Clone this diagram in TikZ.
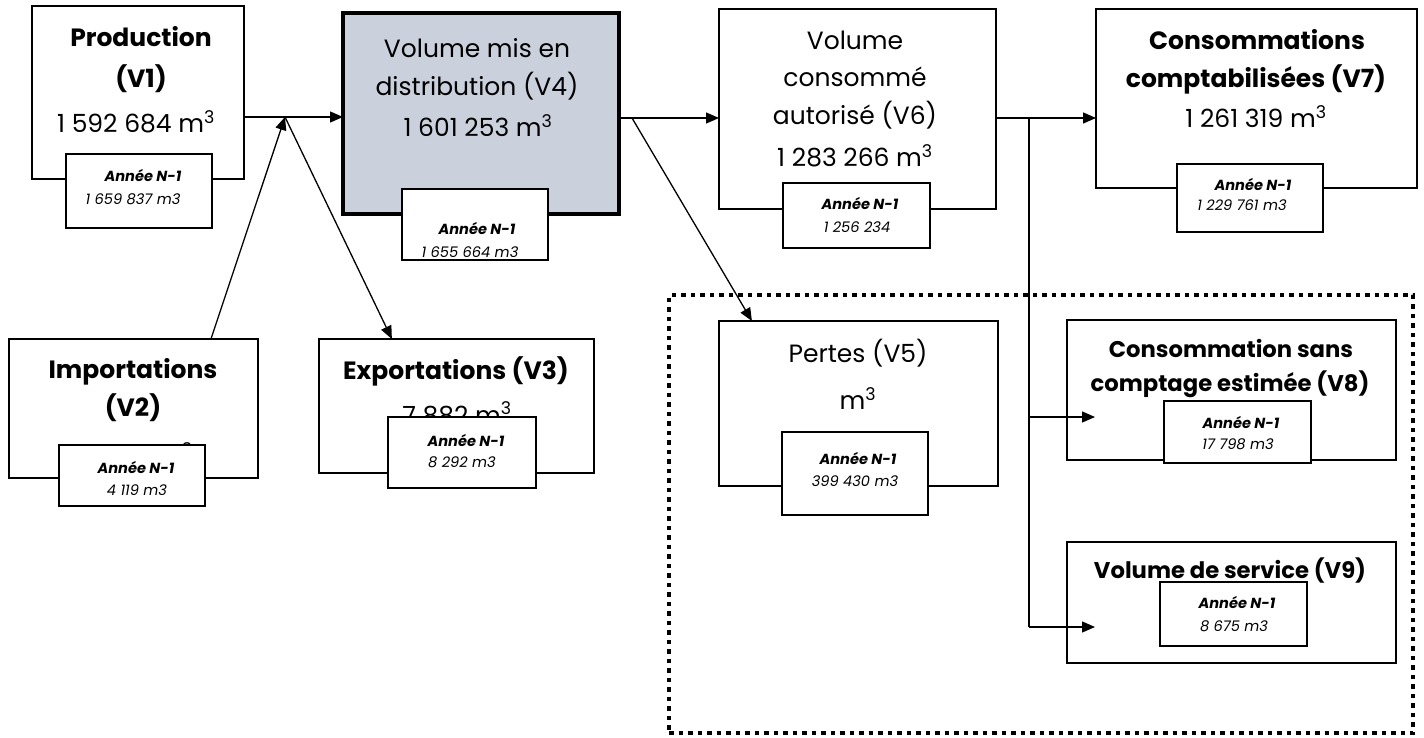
\documentclass[tikz,border=0pt]{standalone}
\usepackage{fontspec}
\setmainfont{Poppins}
\usetikzlibrary{arrows.meta,calc}
\definecolor{vfill}{RGB}{203,208,221}
\begin{document}
\begin{tikzpicture}[x=1pt,y=-1pt,
  box/.style={draw, line width=1.4pt, fill=white, inner sep=0pt, outer sep=0pt},
  bigbox/.style={draw, line width=4.5pt, fill=vfill, inner sep=0pt, outer sep=0pt},
  big/.style={inner sep=0pt, anchor=base, font=\fontsize{25}{30}\selectfont},
  bigb/.style={inner sep=0pt, anchor=base, font=\fontsize{25}{30}\selectfont\bfseries},
  midb/.style={inner sep=0pt, anchor=base, font=\fontsize{22.7}{27}\selectfont\bfseries},
  sm/.style={inner sep=0pt, anchor=base, font=\fontsize{14.6}{17}\selectfont\itshape},
  smb/.style={inner sep=0pt, anchor=base, font=\fontsize{14.6}{17}\selectfont\bfseries\itshape},
  arr/.style={-{Triangle[length=13pt,width=11pt]}, line width=1.3pt},
  con/.style={line width=1.3pt},
  dotbox/.style={draw, line width=4.5pt, dash pattern=on 4.5pt off 5pt}
]
\useasboundingbox (0,0) rectangle (1424,738);
\fill[white] (0,0) rectangle (1424,738);

% dotted frame
\node[dotbox, minimum width=744pt, minimum height=438pt, inner sep=0pt] (frame) at (1041,514) {};

% main boxes
\node[box, minimum width=212pt, minimum height=173pt] (v1) at (138,92.5) {};
\node[bigbox, minimum width=276pt, minimum height=201pt] (v4) at (481,113.5) {};
\node[box, minimum width=277pt, minimum height=200pt] (v6) at (857.5,109) {};
\node[box, minimum width=321pt, minimum height=179pt] (v7) at (1256.5,98.5) {};
\node[box, minimum width=249pt, minimum height=139pt] (v2) at (133.5,408.5) {};
\node[box, minimum width=275pt, minimum height=134pt] (v3) at (456.5,406) {};
\node[box, minimum width=279pt, minimum height=165pt] (v5) at (858.5,403.5) {};
\node[box, minimum width=329pt, minimum height=140pt] (v8) at (1231.5,390) {};
\node[box, minimum width=329pt, minimum height=121pt] (v9) at (1231.5,602.5) {};

% main texts
\node[bigb] (t1a) at (141,46.5) {Production};
\node[bigb] (t1b) at (141,87.5) {(V1)};
\node[big] (t1c) at (136,132.5) {1 592 684 m\textsuperscript{3}};

\node[big] (t4a) at (477,57.5) {Volume mis en};
\node[big] (t4b) at (477,95.5) {distribution (V4)};
\node[big] (t4c) at (478,136.5) {1 601 253 m\textsuperscript{3}};

\node[big] (t6a) at (855,49.5) {Volume};
\node[big] (t6b) at (855,86.5) {consommé};
\node[big] (t6c) at (855,124.5) {autorisé (V6)};
\node[big] (t6d) at (855,166.5) {1 283 266 m\textsuperscript{3}};

\node[bigb] (t7a) at (1257,49.5) {Consommations};
\node[bigb] (t7b) at (1256,87.5) {comptabilisées (V7)};
\node[big] (t7c) at (1256,127.5) {1 261 319 m\textsuperscript{3}};

\node[bigb] (t2a) at (133,378.5) {Importations};
\node[bigb] (t2b) at (133,416.5) {(V2)};
\node[big, anchor=base east] (t2c) at (193,465) {\textsuperscript{3}};

\node[bigb] (t3a) at (456,379.5) {Exportations (V3)};
\node[big] (t3b) at (457,424) {7 882 m\textsuperscript{3}};

\node[big] (t5a) at (858,362.5) {Pertes (V5)};
\node[big] (t5b) at (858,409.5) {m\textsuperscript{3}};

\node[midb] (t8a) at (1231,357.5) {Consommation sans};
\node[midb] (t8b) at (1230,391.5) {comptage estimée (V8)};

\node[midb] (t9a) at (1230,578.5) {Volume de service (V9)};

% sub boxes (year N-1)
\node[box, minimum width=146pt, minimum height=74pt] (s1) at (139,191) {};
\node[box, minimum width=146pt, minimum height=71pt] (s4) at (475,224.5) {};
\node[box, minimum width=147pt, minimum height=65pt] (s6) at (856.5,215.5) {};
\node[box, minimum width=146pt, minimum height=68pt] (s7) at (1250,198) {};
\node[box, minimum width=146pt, minimum height=61pt] (s2) at (132,475.5) {};
\node[box, minimum width=148pt, minimum height=71pt] (s3) at (462,452.5) {};
\node[box, minimum width=146pt, minimum height=83pt] (s5) at (855,473.5) {};
\node[box, minimum width=147pt, minimum height=62pt] (s8) at (1237.5,432) {};
\node[box, minimum width=147pt, minimum height=64pt] (s9) at (1233.5,614) {};

% sub texts
\node[smb] (u1a) at (143,182) {Année N-1};
\node[sm]  (u1b) at (133,205) {1 659 837 m3};
\node[smb] (u4a) at (477,235) {Année N-1};
\node[sm]  (u4b) at (470,257) {1 655 664 m3};
\node[smb] (u6a) at (860,210) {Année N-1};
\node[sm]  (u6b) at (857,233) {1 256 234};
\node[smb] (u7a) at (1253,191) {Année N-1};
\node[sm]  (u7b) at (1242,211) {1 229 761 m3};
\node[smb] (u2a) at (136,473) {Année N-1};
\node[sm]  (u2b) at (137,495) {4 119 m3};
\node[smb] (u3a) at (466,446) {Année N-1};
\node[sm]  (u3b) at (462,467) {8 292 m3};
\node[smb] (u5a) at (858,464) {Année N-1};
\node[sm]  (u5b) at (855,486) {399 430 m3};
\node[smb] (u8a) at (1241,428) {Année N-1};
\node[sm]  (u8b) at (1238,449) {17 798 m3};
\node[smb] (u9a) at (1237,608) {Année N-1};
\node[sm]  (u9b) at (1234,631) {8 675 m3};

% junctions and free ends
\coordinate (j1) at (285,117);
\coordinate (j2) at (632,118);
\coordinate (j3) at (1029,118);
\coordinate (a8) at (1095,417);
\coordinate (a9) at (1095,627);

% connectors
\draw[arr] (v1.east |- j1) -- (v4.west |- j1);
\draw[arr] ($(v2.north west)!0.811!(v2.north east)$) -- (j1);
\draw[arr] (j1) -- ($(v3.north west)!0.265!(v3.north east)$);
\draw[arr] (v4.east |- j2) -- (v6.west |- j2);
\draw[arr] (j2) -- ($(v5.north west)!0.118!(v5.north east)$);
\draw[arr] (v6.east |- j3) -- (v7.west |- j3);
\draw[con] (j3) -- (j3 |- a9);
\draw[arr] (j3 |- a8) -- (a8);
\draw[arr] (j3 |- a9) -- (a9);
\end{tikzpicture}
\end{document}
